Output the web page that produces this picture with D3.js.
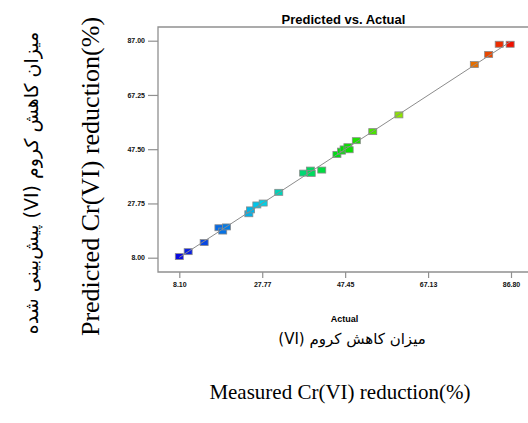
<!DOCTYPE html>
<html>
<head>
<meta charset="utf-8">
<script src="https://cdn.jsdelivr.net/npm/d3@7"></script>
<style>
  body { margin: 0; background: #fff; }
  svg { display: block; }
</style>
</head>
<body>
<div id="chart"></div>
<script>
// measured (actual) vs predicted Cr(VI) reduction
var actual    = [8.1, 10.2, 14.0, 17.5, 18.4, 19.3, 24.6, 25.0, 26.5, 28.0, 31.7, 37.6, 39.2, 39.4, 41.9, 45.5, 46.6, 47.2, 48.1, 48.4, 50.1, 54.0, 60.2, 78.1, 81.5, 84.0, 86.6];
var predicted = [8.4, 10.2, 13.5, 18.9, 17.7, 19.2, 24.0, 25.4, 27.2, 27.9, 31.8, 38.8, 39.9, 38.7, 39.9, 45.6, 46.8, 47.6, 48.4, 47.3, 50.6, 53.9, 60.0, 78.3, 82.0, 85.7, 85.7];
var xTicks = [8.10, 27.775, 47.45, 67.125, 86.80];
var xTickLabels = ['8.10', '27.77', '47.45', '67.13', '86.80'];
var yTicks = [8.00, 27.75, 47.50, 67.25, 87.00];
var yTickLabels = ['8.00', '27.75', '47.50', '67.25', '87.00'];

var width = 528, height = 423;

var svg = d3.select('#chart').append('svg')
    .attr('width', width)
    .attr('height', height);

var x = d3.scaleLinear().domain([8.1, 86.8]).range([179.3, 511]);
var y = d3.scaleLinear().domain([8, 87]).range([257.7, 40.7]);

var frameLeft = 158, frameTop = 27, frameBottom = 272, frameRight = 528;

var color = d3.scaleLinear()
    .domain([0, 0.25, 0.5, 0.75, 1])
    .range(['#0a0ae0', '#00d0e8', '#00e000', '#d8e800', '#f01000']);
var lo = d3.min(actual), hi = d3.max(actual);

// frame
svg.append('path')
    .attr('d', 'M' + frameRight + ',' + frameTop + 'H' + frameLeft + 'V' + frameBottom + 'H' + frameRight)
    .attr('fill', 'none')
    .attr('stroke', '#909090')
    .attr('stroke-width', 1.3);

// axes
var xAxis = svg.append('g')
    .attr('transform', 'translate(0,' + frameBottom + ')')
    .call(d3.axisBottom(x).tickValues(xTicks).tickSize(6).tickPadding(4)
        .tickFormat(function(d, i) { return xTickLabels[i]; }));
var yAxis = svg.append('g')
    .attr('transform', 'translate(' + frameLeft + ',0)')
    .call(d3.axisLeft(y).tickValues(yTicks).tickSize(10).tickPadding(3)
        .tickFormat(function(d, i) { return yTickLabels[i]; }));

[xAxis, yAxis].forEach(function(a) {
    a.select('.domain').remove();
    a.selectAll('line').attr('stroke', '#909090').attr('stroke-width', 1.2);
    a.selectAll('text')
        .attr('fill', '#111')
        .style('font-family', 'Arial, "Liberation Sans", sans-serif')
        .style('font-weight', 'bold')
        .style('font-size', '7px');
});

// points
var pts = actual.map(function(a, i) { return { a: a, p: predicted[i] }; });
svg.append('g').selectAll('rect')
    .data(pts)
    .enter().append('rect')
    .attr('x', function(d) { return x(d.a) - 4; })
    .attr('y', function(d) { return y(d.p) - 3; })
    .attr('width', 8)
    .attr('height', 6)
    .attr('fill', function(d) { return color((d.a - lo) / (hi - lo)); })
    .attr('stroke', '#8a8a8a')
    .attr('stroke-width', 0.8);

// y = x line
svg.append('line')
    .attr('x1', x(8.1)).attr('y1', y(8.1))
    .attr('x2', x(86.8)).attr('y2', y(86.8))
    .attr('stroke', '#8c8c8c')
    .attr('stroke-width', 1);

// titles
svg.append('text')
    .attr('x', 343.5).attr('y', 24)
    .attr('text-anchor', 'middle')
    .style('font-family', 'Arial, "Liberation Sans", sans-serif')
    .style('font-weight', 'bold')
    .style('font-size', '13px')
    .text('Predicted vs. Actual');

svg.append('text')
    .attr('x', 344.5).attr('y', 322)
    .attr('text-anchor', 'middle')
    .style('font-family', 'Arial, "Liberation Sans", sans-serif')
    .style('font-weight', 'bold')
    .style('font-size', '9px')
    .text('Actual');

svg.append('text')
    .attr('x', 352).attr('y', 344)
    .attr('text-anchor', 'middle')
    .attr('direction', 'rtl')
    .style('font-family', '"DejaVu Sans", sans-serif')
    .style('font-size', '15px')
    .text('میزان کاهش کروم (VI)');

svg.append('text')
    .attr('x', 340).attr('y', 399)
    .attr('text-anchor', 'middle')
    .style('font-family', '"Liberation Serif", "Times New Roman", serif')
    .style('font-size', '21px')
    .text('Measured Cr(VI) reduction(%)');

svg.append('text')
    .attr('transform', 'translate(99,176.5) rotate(-90)')
    .attr('text-anchor', 'middle')
    .style('font-family', '"Liberation Serif", "Times New Roman", serif')
    .style('font-size', '26px')
    .text('Predicted Cr(VI) reduction(%)');

svg.append('text')
    .attr('transform', 'translate(38,183) rotate(-90)')
    .attr('text-anchor', 'middle')
    .attr('direction', 'rtl')
    .style('font-family', '"DejaVu Sans", sans-serif')
    .style('font-size', '19px')
    .text('میزان کاهش کروم (VI) پیش‌بینی شده');
</script>
</body>
</html>
